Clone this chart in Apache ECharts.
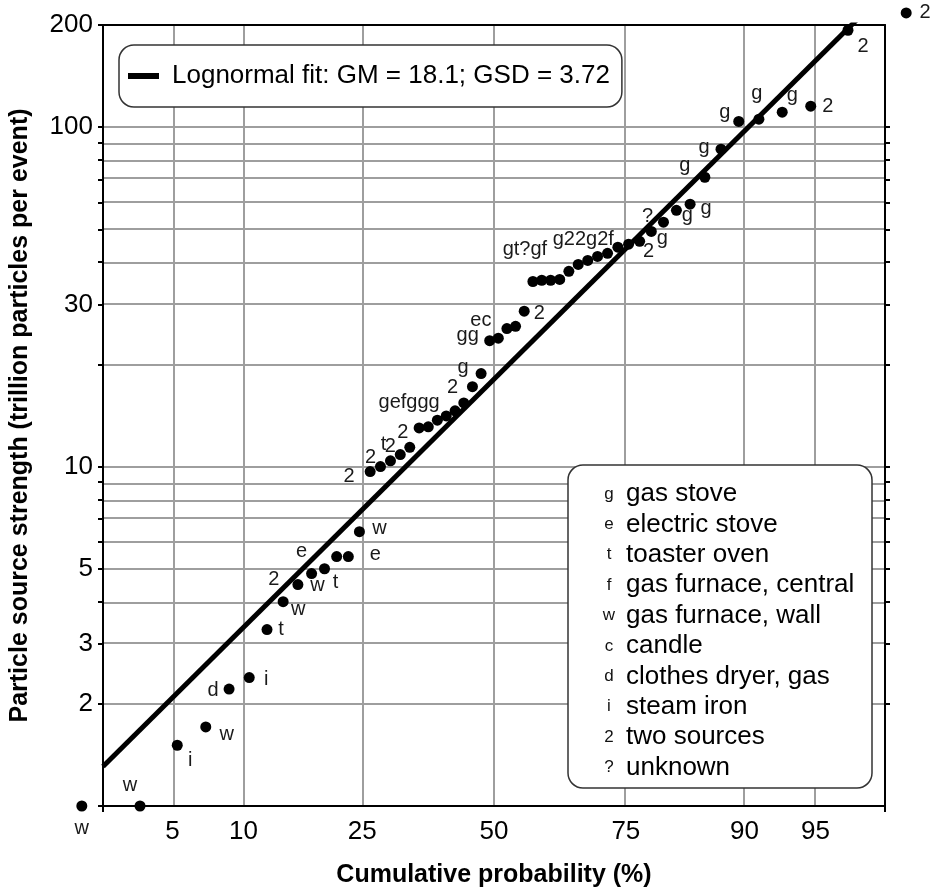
<!DOCTYPE html>
<html>
<head>
<meta charset="utf-8">
<title>Particle source strength - lognormal probability plot</title>
<script src="https://cdn.jsdelivr.net/npm/echarts@6.0.0/dist/echarts.min.js"></script>
<style>
  html, body { margin: 0; padding: 0; background: #fff; }
  #chart { width: 932px; height: 890px; }
</style>
</head>
<body>
<div id="chart"></div>
<script>
// fit parameters shown in the legend
const GM = 18.1;
const GSD = 3.72;

// cumulative probability (%) of each event
const cumProb = [1.75, 3.51, 5.26, 7.02, 8.77, 10.53, 12.28, 14.04, 15.79, 17.54,
  19.30, 21.05, 22.81, 24.56, 26.32, 28.07, 29.82, 31.58, 33.33, 35.09,
  36.84, 38.60, 40.35, 42.11, 43.86, 45.61, 47.37, 49.12, 50.88, 52.63,
  54.39, 56.14, 57.89, 59.65, 61.40, 63.16, 64.91, 66.67, 68.42, 70.18,
  71.93, 73.68, 75.44, 77.19, 78.95, 80.70, 82.46, 84.21, 85.96, 87.72,
  89.47, 91.23, 92.98, 94.74, 96.49, 98.25];

// source strength (trillion particles per event)
const strength = [1.0, 1.0, 1.51, 1.71, 2.21, 2.39, 3.31, 4.0, 4.49, 4.84,
  5.0, 5.43, 5.43, 6.43, 9.67, 10.0, 10.4, 10.85, 11.4, 13.0,
  13.1, 13.7, 14.1, 14.6, 15.4, 17.2, 18.8, 23.5, 23.9, 25.5,
  25.9, 28.7, 35.1, 35.4, 35.4, 35.6, 37.6, 39.4, 40.5, 41.6,
  42.5, 44.3, 45.2, 46.1, 49.3, 52.5, 56.9, 59.3, 71.2, 86.1,
  104, 105.6, 110.7, 115.3, 193, 217];

// source code of each event (see key)
const sourceCode = ['w', 'w', 'i', 'w', 'd', 'i', 't', 'w', '2', 'w',
  't', 'e', 'e', 'w', '2', '2', 't', '2', '2', 'g',
  'e', 'f', 'g', 'g', 'g', '2', 'g', 'g', 'g', 'e',
  'c', '2', 'g', 't', '?', 'g', 'f', 'g', '2', '2',
  'g', '2', 'f', '2', 'g', '?', 'g', 'g', 'g', 'g',
  'g', 'g', 'g', '2', '2', '2'];

const keyCodes = ['g', 'e', 't', 'f', 'w', 'c', 'd', 'i', '2', '?'];
const keyNames = ['gas stove', 'electric stove', 'toaster oven', 'gas furnace, central',
  'gas furnace, wall', 'candle', 'clothes dryer, gas', 'steam iron', 'two sources', 'unknown'];

const xTickProbs = [5, 10, 25, 50, 75, 90, 95];
const yTickLabels = [2, 3, 5, 10, 30, 100, 200];
const yGridValues = [2, 3, 4, 5, 6, 7, 8, 9, 10, 20, 30, 40, 50, 60, 70, 80, 90, 100];
const yMin = 1, yMax = 200;

// label placement: [dx, dy, how many codes joined]; null = joined into previous label
const tagLayout = [
  [0, 22, 1], [-10, -21, 1], [13, 15, 1], [21, 8, 1], [-16, 1, 1],
  [17, 2, 1], [14, 0, 1], [15, 8, 1], [-24, -5, 1], [6, 12, 1],
  [11, 14, 1], [-35, -5, 1], [27, -2, 1], [20, -3, 1], [-21, 5, 1],
  [-10, -9, 1], [-7, -16, 1], [-10, -8, 1], [-7, -15, 1], [-10, -25, 6],
  null, null, null, null, null,
  [-20, 1, 1], [-18, -6, 1], [-22, -5, 2], null, [-26, -8, 2],
  null, [15, 2, 1], [-8, -32, 5], null, null,
  null, null, [5, -25, 6], null, null,
  null, null, null, [9, 10, 1], [11, 7, 1],
  [-16, -6, 1], [11, 5, 1], [16, 4, 1], [-20, -12, 1], [-17, -2, 1],
  [-14, -9, 1], [-2, -26, 1], [10, -17, 1], [17, 0, 1], [15, 16, 1],
  [19, 0, 1]
];

const FONT = '"Liberation Sans", Arial, sans-serif';

// inverse of the standard normal CDF (Acklam)
function probit(p) {
  const a = [-3.969683028665376e+01, 2.209460984245205e+02, -2.759285104469687e+02,
    1.383577518672690e+02, -3.066479806614716e+01, 2.506628277459239e+00];
  const b = [-5.447609879822406e+01, 1.615858368580409e+02, -1.556989798598866e+02,
    6.680131188771972e+01, -1.328068155922803e+01];
  const c = [-7.784894002430293e-03, -3.223964580411365e-01, -2.400758277161838e+00,
    -2.549732539343734e+00, 4.374664141464968e+00, 2.938163982698783e+00];
  const d = [7.784695709041462e-03, 3.224671290700398e-01, 2.445134137142996e+00,
    3.754408661907416e+00];
  const pl = 0.02425;
  let q, r;
  if (p < pl) {
    q = Math.sqrt(-2 * Math.log(p));
    return (((((c[0] * q + c[1]) * q + c[2]) * q + c[3]) * q + c[4]) * q + c[5]) /
      ((((d[0] * q + d[1]) * q + d[2]) * q + d[3]) * q + 1);
  }
  if (p > 1 - pl) {
    q = Math.sqrt(-2 * Math.log(1 - p));
    return -(((((c[0] * q + c[1]) * q + c[2]) * q + c[3]) * q + c[4]) * q + c[5]) /
      ((((d[0] * q + d[1]) * q + d[2]) * q + d[3]) * q + 1);
  }
  q = p - 0.5;
  r = q * q;
  return (((((a[0] * r + a[1]) * r + a[2]) * r + a[3]) * r + a[4]) * r + a[5]) * q /
    (((((b[0] * r + b[1]) * r + b[2]) * r + b[3]) * r + b[4]) * r + 1);
}

const lg = Math.log10;
const xTickZ = xTickProbs.map(p => probit(p / 100));
const nearest = (arr, v) => arr.reduce((k, a, i) => Math.abs(a - v) < Math.abs(arr[k] - v) ? i : k, 0);

const points = strength.map((v, i) => {
  const lay = tagLayout[i];
  const item = { value: [probit(cumProb[i] / 100), lg(v)] };
  if (lay) {
    item.label = {
      show: true,
      formatter: sourceCode.slice(i, i + lay[2]).join(''),
      offset: [lay[0], lay[1]]
    };
  }
  return item;
});

const fitName = 'Lognormal fit: GM = ' + GM + '; GSD = ' + GSD;
const fitLine = [-2, 2].map(z => [z, lg(GM) + z * lg(GSD)]);

const keyElements = [{
  type: 'rect', z: 10,
  shape: { x: 568, y: 465, width: 304, height: 323, r: 15 },
  style: { fill: '#fff', stroke: '#333', lineWidth: 1.5 }
}];
keyCodes.forEach((c, k) => {
  const y = 494 + k * 30.4;
  keyElements.push({
    type: 'text', z: 11, x: 609, y: y,
    style: { text: c, font: '17px ' + FONT, fill: '#111', align: 'center', verticalAlign: 'middle' }
  });
  keyElements.push({
    type: 'text', z: 11, x: 626, y: y,
    style: { text: keyNames[k], font: '26px ' + FONT, fill: '#000', align: 'left', verticalAlign: 'middle' }
  });
});

const frameLine = { show: true, onZero: false, lineStyle: { color: '#000', width: 2 } };

const option = {
  animation: false,
  backgroundColor: '#fff',
  textStyle: { fontFamily: FONT },
  grid: { left: 103, right: 47, top: 25, bottom: 84, containLabel: false, outerBoundsMode: 'none' },
  legend: {
    left: 119, top: 45,
    padding: [18, 12, 18, 9],
    backgroundColor: '#fff', borderColor: '#333', borderWidth: 1.5, borderRadius: 15,
    itemWidth: 31, itemHeight: 6, icon: 'rect', selectedMode: false, z: 10,
    textStyle: { fontSize: 26, color: '#000', fontFamily: FONT, padding: [0, 0, 0, 8] },
    data: [fitName]
  },
  graphic: keyElements,
  xAxis: [{
    type: 'value', min: -2, max: 2, position: 'bottom', z: 3,
    axisLine: frameLine,
    splitLine: { show: false },
    axisTick: { show: true, customValues: [-2, 2], length: 6, lineStyle: { color: '#000', width: 2 } },
    axisLabel: {
      customValues: xTickZ, margin: 13, fontSize: 26, color: '#000', fontFamily: FONT,
      formatter: v => String(xTickProbs[nearest(xTickZ, v)])
    },
    name: 'Cumulative probability (%)', nameLocation: 'middle', nameGap: 57, nameMoveOverlap: false,
    nameTextStyle: { fontSize: 25, fontWeight: 'bold', color: '#000', fontFamily: FONT }
  }, {
    type: 'value', min: -2, max: 2, position: 'top', z: 3,
    axisLine: frameLine, axisTick: { show: false }, axisLabel: { show: false }, splitLine: { show: false }
  }],
  yAxis: [{
    type: 'value', min: lg(yMin), max: lg(yMax), position: 'left', z: 3,
    axisLine: frameLine,
    splitLine: { show: false },
    axisTick: { show: true, customValues: [yMin].concat(yGridValues, [yMax]).map(lg), length: 5,
      lineStyle: { color: '#000', width: 2 } },
    axisLabel: {
      customValues: yTickLabels.map(lg), margin: 10, fontSize: 26, color: '#000', fontFamily: FONT,
      formatter: v => String(yTickLabels[nearest(yTickLabels.map(lg), v)])
    },
    name: 'Particle source strength (trillion particles per event)', nameLocation: 'middle',
    nameRotate: 90, nameGap: 70, nameMoveOverlap: false,
    nameTextStyle: { fontSize: 25, fontWeight: 'bold', color: '#000', fontFamily: FONT }
  }, {
    type: 'value', min: lg(yMin), max: lg(yMax), position: 'right', z: 3,
    axisLine: frameLine,
    splitLine: { show: false },
    axisTick: { show: true, customValues: yGridValues.map(lg), length: 5,
      lineStyle: { color: '#000', width: 2 } },
    axisLabel: { show: false }
  }],
  series: [{
    name: fitName,
    type: 'line',
    data: fitLine,
    xAxisIndex: 0, yAxisIndex: 0,
    z: 4, clip: true,
    symbol: 'none',
    color: '#000',
    lineStyle: { color: '#000', width: 5, opacity: 1 },
    silent: true,
    markLine: {
      z: 1, silent: true, symbol: 'none', animation: false,
      label: { show: false },
      lineStyle: { color: '#9e9e9e', width: 2, type: 'solid', opacity: 1 },
      emphasis: { disabled: true },
      data: xTickZ.map(z => ({ xAxis: z })).concat(yGridValues.map(v => ({ yAxis: lg(v) })))
    }
  }, {
    name: 'events',
    type: 'scatter',
    data: points,
    xAxisIndex: 0, yAxisIndex: 0,
    z: 5, clip: false,
    symbol: 'circle', symbolSize: 11,
    itemStyle: { color: '#000', opacity: 1 },
    label: {
      show: false, position: 'inside', fontSize: 20, color: '#1a1a1a', fontFamily: FONT,
      align: 'center', verticalAlign: 'middle', textBorderWidth: 0
    },
    emphasis: { disabled: true },
    silent: true
  }]
};

const chart = echarts.init(document.getElementById('chart'), null, { renderer: 'canvas' });
chart.setOption(option);
</script>
</body>
</html>
